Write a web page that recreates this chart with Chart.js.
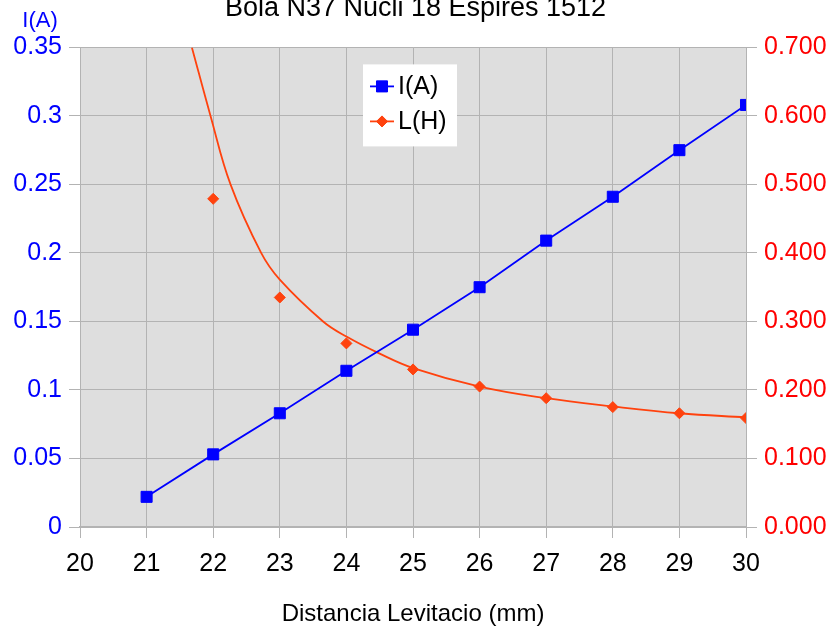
<!DOCTYPE html>
<html>
<head>
<meta charset="utf-8">
<script src="https://cdn.jsdelivr.net/npm/chart.js@4/dist/chart.umd.min.js"></script>
<style>
  html, body { margin: 0; padding: 0; background: #ffffff; }
  #wrap { width: 831px; height: 627px; }
</style>
</head>
<body>
<div id="wrap"><canvas id="c" width="831" height="627"></canvas></div>
<script>
// Levitation distance (mm)
const distances = [21, 22, 23, 24, 25, 26, 27, 28, 29, 30];
// Coil current I(A)
const currentA = [0.022, 0.053, 0.083, 0.114, 0.144, 0.175, 0.209, 0.241, 0.275, 0.308];
// Inductance L(H) measured points (no value shown at 21 mm)
const inductanceH = [null, 0.479, 0.335, 0.268, 0.230, 0.205, 0.188, 0.175, 0.166, 0.159];
// Smoothed L(H) curve
const curveX = [21.68, 21.96, 22.26, 22.72, 23.0, 23.65, 24.0, 24.5, 25, 26, 27, 28, 29, 30];
const curveH = [0.700, 0.600, 0.500, 0.400, 0.361, 0.300, 0.278, 0.253, 0.232, 0.205, 0.188, 0.176, 0.166, 0.160];

// Axis ticks
const xTickValues = [20, 21, 22, 23, 24, 25, 26, 27, 28, 29, 30];
const leftTickLabels = ['0', '0.05', '0.1', '0.15', '0.2', '0.25', '0.3', '0.35'];
const rightTickLabels = ['0.000', '0.100', '0.200', '0.300', '0.400', '0.500', '0.600', '0.700'];

const BLUE = '#0000ff';
const ORANGE = '#ff420e';
const RED = '#ff0000';
const GRID = '#b3b3b3';

Chart.defaults.font.family = '"Liberation Sans", Arial, sans-serif';

const plotBackground = {
  id: 'plotBackground',
  beforeDraw(chart) {
    const { ctx, chartArea: a } = chart;
    ctx.save();
    ctx.fillStyle = '#dedede';
    ctx.fillRect(a.left, a.top, a.right - a.left, a.bottom - a.top);
    ctx.restore();
  }
};

// Horizontal unit label above the left axis
const leftUnitLabel = {
  id: 'leftUnitLabel',
  afterDraw(chart) {
    const { ctx } = chart;
    ctx.save();
    ctx.fillStyle = BLUE;
    ctx.font = '22px "Liberation Sans", Arial, sans-serif';
    ctx.textAlign = 'center';
    ctx.textBaseline = 'middle';
    ctx.fillText('I(A)', 40, 21);
    ctx.restore();
  }
};

// Legend box inside the plot, with line + marker symbols
const insideLegend = {
  id: 'insideLegend',
  afterDraw(chart) {
    const { ctx, chartArea: a } = chart;
    const bx = a.left + 283, by = a.top + 17, bw = 94, bh = 82;
    ctx.save();
    ctx.fillStyle = '#ffffff';
    ctx.fillRect(bx, by, bw, bh);
    const items = [
      { ds: chart.data.datasets[0], y: by + 22, style: 'rect', r: 7.8 },
      { ds: chart.data.datasets[1], y: by + 57, style: 'rectRot', r: 5.5 }
    ];
    ctx.font = '25px "Liberation Sans", Arial, sans-serif';
    ctx.textBaseline = 'middle';
    ctx.textAlign = 'left';
    for (const it of items) {
      const col = it.ds.borderColor;
      ctx.strokeStyle = col;
      ctx.lineWidth = 1.8;
      ctx.beginPath();
      ctx.moveTo(bx + 7, it.y);
      ctx.lineTo(bx + 31, it.y);
      ctx.stroke();
      ctx.fillStyle = col;
      ctx.lineWidth = 1;
      Chart.helpers.drawPoint(ctx, { pointStyle: it.style, radius: it.r, borderWidth: 1 }, bx + 19, it.y);
      ctx.fill();
      ctx.fillStyle = '#000000';
      ctx.fillText(it.ds.label, bx + 35, it.y + 1);
    }
    ctx.restore();
  }
};

const ctx = document.getElementById('c').getContext('2d');
new Chart(ctx, {
  type: 'scatter',
  data: {
    datasets: [
      {
        label: 'I(A)',
        data: distances.map((d, i) => ({ x: d, y: currentA[i] })),
        yAxisID: 'yL',
        showLine: true,
        borderColor: BLUE,
        backgroundColor: BLUE,
        borderWidth: 1.8,
        pointStyle: 'rect',
        pointRadius: 7.8,
        pointHoverRadius: 7.8,
        pointBorderWidth: 1,
        tension: 0,
        order: 0
      },
      {
        label: 'L(H)',
        data: distances.map((d, i) => ({ x: d, y: inductanceH[i] })),
        yAxisID: 'yR',
        showLine: false,
        borderColor: ORANGE,
        backgroundColor: ORANGE,
        pointStyle: 'rectRot',
        pointRadius: 5.5,
        pointHoverRadius: 5.5,
        pointBorderWidth: 1,
        order: 1
      },
      {
        label: 'L(H) curve',
        data: curveX.map((x, i) => ({ x: x, y: curveH[i] })),
        yAxisID: 'yR',
        showLine: true,
        borderColor: ORANGE,
        backgroundColor: ORANGE,
        borderWidth: 1.8,
        pointRadius: 0,
        pointHoverRadius: 0,
        tension: 0.4,
        order: 2
      }
    ]
  },
  options: {
    responsive: false,
    animation: false,
    events: [],
    layout: { padding: 0 },
    plugins: {
      legend: { display: false },
      tooltip: { enabled: false },
      title: {
        display: true,
        text: 'Bola N37 Nucli 18 Espires 1512',
        color: '#000000',
        font: { size: 27, weight: 'normal' },
        padding: { top: -8, bottom: 23 }
      }
    },
    scales: {
      x: {
        type: 'linear',
        min: 20,
        max: 30,
        afterBuildTicks: s => { s.ticks = xTickValues.map(v => ({ value: v })); },
        afterFit: s => { s.height = 100; },
        grid: { color: GRID, lineWidth: 1, tickLength: 11, drawTicks: true },
        border: { color: GRID, width: 1.5 },
        ticks: {
          color: '#000000',
          font: { size: 25 },
          padding: 11,
          maxRotation: 0,
          autoSkip: false,
          callback: v => String(v)
        },
        title: {
          display: true,
          text: 'Distancia Levitacio (mm)',
          color: '#000000',
          font: { size: 24 },
          padding: { top: 0, bottom: -2 }
        }
      },
      yL: {
        type: 'linear',
        position: 'left',
        min: 0,
        max: 0.35,
        afterBuildTicks: s => { s.ticks = leftTickLabels.map(t => ({ value: parseFloat(t) })); },
        afterFit: s => { s.width = 80; },
        grid: { color: GRID, lineWidth: 1, tickLength: 11 },
        border: { color: GRID, width: 1 },
        ticks: {
          color: BLUE,
          font: { size: 25 },
          padding: 7,
          callback: (v, i) => leftTickLabels[i]
        }
      },
      yR: {
        type: 'linear',
        position: 'right',
        min: 0,
        max: 0.7,
        afterBuildTicks: s => { s.ticks = rightTickLabels.map(t => ({ value: parseFloat(t) })); },
        afterFit: s => { s.width = 85; },
        grid: { color: GRID, lineWidth: 1, tickLength: 11, drawOnChartArea: false },
        border: { color: GRID, width: 1 },
        ticks: {
          color: RED,
          font: { size: 25 },
          padding: 7,
          callback: (v, i) => rightTickLabels[i]
        }
      }
    }
  },
  plugins: [plotBackground, leftUnitLabel, insideLegend]
});
</script>
</body>
</html>
